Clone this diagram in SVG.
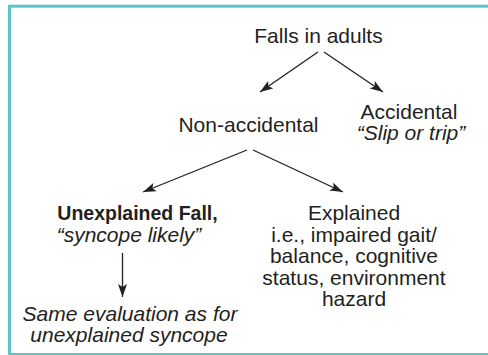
<svg xmlns="http://www.w3.org/2000/svg" width="488" height="355" viewBox="0 0 488 355">
<defs>
<marker id="ah" markerWidth="14" markerHeight="10" refX="13" refY="5" orient="auto" markerUnits="userSpaceOnUse">
<path d="M0,0.5 L13,5 L0,9.5 L3,5 Z" fill="#231f20"/>
</marker>
<style>
.t{font-family:"Liberation Sans",Arial,sans-serif;font-size:21px;fill:#231f20;text-anchor:middle}
.i{font-style:italic}
.b{font-weight:bold;font-size:19.5px}
.c{stroke:#231f20;stroke-width:1.3;fill:none;marker-end:url(#ah)}
</style>
</defs>
<rect x="0" y="0" width="488" height="355" fill="#ffffff"/>
<rect x="9.5" y="6.2" width="490" height="348.3" fill="none" stroke="#5bc6c9" stroke-width="3"/>
<g id="connectors">
<line class="c" x1="318" y1="52" x2="260" y2="92"/>
<line class="c" x1="324" y1="52" x2="383" y2="92"/>
<line class="c" x1="247" y1="150" x2="143" y2="192"/>
<line class="c" x1="253" y1="150" x2="343" y2="192"/>
<line class="c" x1="122.5" y1="253" x2="122.5" y2="297"/>
</g>
<g id="falls"><text class="t" x="318.5" y="43">Falls in adults</text></g>
<g id="nonaccidental"><text class="t" x="248.5" y="132">Non-accidental</text></g>
<g id="accidental"><text class="t" x="409" y="118.5">Accidental</text><text class="t i" x="411" y="140">“Slip or trip”</text></g>
<g id="unexplained"><text class="t b" x="137.5" y="220">Unexplained Fall,</text><text class="t i" x="129" y="242">“syncope likely”</text></g>
<g id="explained"><text class="t" x="354" y="220">Explained</text><text class="t" x="354" y="241.5">i.e., impaired gait/</text><text class="t" x="354" y="263">balance, cognitive</text><text class="t" x="354" y="284.5">status, environment</text><text class="t" x="354" y="306">hazard</text></g>
<g id="evaluation"><text class="t i" x="130" y="320.5">Same evaluation as for</text><text class="t i" x="129" y="342">unexplained syncope</text></g>
</svg>
